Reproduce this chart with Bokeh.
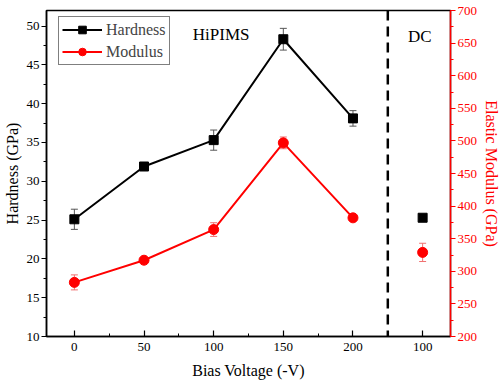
from bokeh.plotting import figure
from bokeh.models import (Range1d, LinearAxis, FixedTicker, Span, Whisker, TeeHead,
                          ColumnDataSource, Label, Legend, LegendItem)
from bokeh.embed import file_html
from bokeh.resources import INLINE

# Data
bias = [0, 50, 100, 150, 200]
dc_pos = [250]
hardness = [25.1, 31.9, 35.3, 48.3, 38.1]
hardness_err = [1.3, 0.3, 1.3, 1.4, 1.0]
dc_hardness = [25.3]
dc_hardness_err = [0.4]
modulus = [283, 317, 364, 497, 382]
modulus_err = [11.5, 3, 10.5, 9, 4]
dc_modulus = [329]
dc_modulus_err = [14]
x_ticks = [0, 50, 100, 150, 200, 250]
x_tick_labels = ["0", "50", "100", "150", "200", "100"]

FONT = "Liberation Serif"
RED = "#ff0000"

p = figure(width=503, height=385, output_backend="svg", toolbar_location=None,
           x_range=Range1d(-20, 270), y_range=Range1d(10, 52),
           min_border_left=44, min_border_right=53, min_border_top=10, min_border_bottom=49)
p.extra_y_ranges = {"mod": Range1d(200, 700)}
p.xgrid.visible = False
p.ygrid.visible = False
p.outline_line_color = "black"
p.outline_line_width = 1.5
p.background_fill_color = "white"
p.border_fill_color = "white"

# x axis
xa = p.xaxis[0]
xa.ticker = FixedTicker(ticks=x_ticks, minor_ticks=[25, 75, 125, 175])
xa.major_label_overrides = {t: l for t, l in zip(x_ticks, x_tick_labels)}
xa.axis_label = "Bias Voltage (-V)"
xa.major_tick_in = 6
xa.major_tick_out = 0
xa.minor_tick_in = 3
xa.minor_tick_out = 0

# left axis
ya = p.yaxis[0]
ya.ticker = FixedTicker(ticks=list(range(10, 51, 5)), minor_ticks=[10 + 2.5 * i for i in range(17)])
ya.axis_label = "Hardness (GPa)"
ya.major_tick_in = 0
ya.major_tick_out = 5
ya.minor_tick_in = 0
ya.minor_tick_out = 3

# right axis
ra = LinearAxis(y_range_name="mod", axis_label="Elastic Modulus (GPa)",
                ticker=FixedTicker(ticks=list(range(200, 701, 50)),
                                   minor_ticks=list(range(200, 701, 25))))
ra.major_tick_in = 0
ra.major_tick_out = 5
ra.minor_tick_in = 0
ra.minor_tick_out = 3
for ax, col in ((xa, "black"), (ya, "black"), (ra, RED)):
    ax.axis_line_color = col
    ax.major_tick_line_color = col
    ax.minor_tick_line_color = col
    ax.axis_line_width = 1.5
    ax.major_tick_line_width = 1.2
    ax.minor_tick_line_width = 1.0
    ax.major_label_text_color = col
    ax.axis_label_text_color = col
    ax.major_label_text_font = FONT
    ax.axis_label_text_font = FONT
    ax.major_label_text_font_size = "13px"
    ax.axis_label_text_font_size = "16px"
    ax.axis_label_text_font_style = "normal"
    ax.axis_label_standoff = 3
    ax.major_label_standoff = 2
xa.major_label_standoff = 6
xa.axis_label_standoff = 8
p.add_layout(ra, "right")

# divider
p.add_layout(Span(location=225, dimension="height", line_color="black",
                  line_width=2.5, line_dash="10 6"))

# error bars
def add_err(xs, ys, es, color, rname="default"):
    src = ColumnDataSource(dict(x=xs, lo=[y - e for y, e in zip(ys, es)],
                                hi=[y + e for y, e in zip(ys, es)]))
    w = Whisker(source=src, base="x", lower="lo", upper="hi", line_color=color,
                line_width=1,
                upper_head=TeeHead(size=7, line_color=color, line_width=1),
                lower_head=TeeHead(size=7, line_color=color, line_width=1))
    if rname != "default":
        w.y_range_name = rname
    p.add_layout(w)

add_err(bias, hardness, hardness_err, "#555555")
add_err(dc_pos, dc_hardness, dc_hardness_err, "#555555")
add_err(bias, modulus, modulus_err, "#f07070", "mod")
add_err(dc_pos, dc_modulus, dc_modulus_err, "#f07070", "mod")

hl = p.line(bias, hardness, line_color="black", line_width=2)
hs = p.scatter(bias, hardness, marker="square", size=9, color="black")
p.scatter(dc_pos, dc_hardness, marker="square", size=9, color="black")
ml = p.line(bias, modulus, line_color=RED, line_width=2, y_range_name="mod")
ms = p.scatter(bias, modulus, marker="circle", size=10, color=RED, y_range_name="mod")
p.scatter(dc_pos, dc_modulus, marker="circle", size=10, color=RED, y_range_name="mod")

legend = Legend(items=[LegendItem(label="Hardness", renderers=[hl, hs]),
                       LegendItem(label="Modulus", renderers=[ml, ms])],
                location=(12, 271), label_text_font=FONT, label_text_font_size="16px",
                glyph_width=40, glyph_height=19, spacing=3, padding=3, margin=0,
                label_standoff=4, border_line_color="black", border_line_width=1,
                background_fill_alpha=1.0)
p.add_layout(legend, "center")

p.add_layout(Label(x=85, y=48.9, text="HiPIMS", text_font=FONT, text_font_size="17px",
                   text_color="black", text_baseline="middle"))
p.add_layout(Label(x=239.5, y=48.7, text="DC", text_font=FONT, text_font_size="17px",
                   text_color="black", text_baseline="middle"))

open("out.html", "w").write(file_html(p, INLINE))
